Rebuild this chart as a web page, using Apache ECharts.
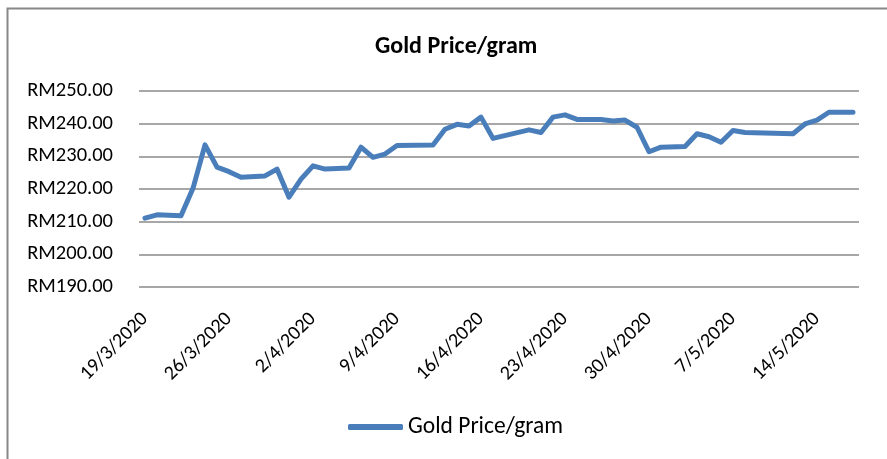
<!DOCTYPE html>
<html>
<head>
<meta charset="utf-8">
<script src="https://cdn.jsdelivr.net/npm/echarts@6/dist/echarts.min.js"></script>
<style>
  html, body { margin: 0; padding: 0; background: #fff; }
  #chart { width: 887px; height: 459px; }
</style>
</head>
<body>
<div id="chart"></div>
<script>
// Observed data points (date as d/m/yyyy, gold price RM per gram)
const pointDates = [
  '19/3/2020','20/3/2020','22/3/2020','23/3/2020','24/3/2020','25/3/2020','26/3/2020','27/3/2020','29/3/2020','30/3/2020','31/3/2020',
  '1/4/2020','2/4/2020','3/4/2020','5/4/2020','6/4/2020','7/4/2020','8/4/2020','9/4/2020','12/4/2020','13/4/2020','14/4/2020','15/4/2020',
  '16/4/2020','17/4/2020','20/4/2020','21/4/2020','22/4/2020','23/4/2020','24/4/2020','26/4/2020','27/4/2020','28/4/2020','29/4/2020','30/4/2020',
  '1/5/2020','3/5/2020','4/5/2020','5/5/2020','6/5/2020','7/5/2020','8/5/2020','12/5/2020','13/5/2020','14/5/2020','15/5/2020','17/5/2020'
];
const pointValues = [
  211.1, 212.1, 211.8, 220.2, 233.5, 226.7, 225.3, 223.6, 224.0, 226.1, 217.5,
  223.0, 227.1, 226.1, 226.4, 232.8, 229.7, 230.7, 233.3, 233.5, 238.3, 239.8, 239.3,
  242.0, 235.5, 238.1, 237.3, 242.0, 242.7, 241.3, 241.3, 240.8, 241.1, 238.9, 231.4,
  232.8, 233.0, 236.9, 236.0, 234.3, 237.9, 237.3, 236.9, 239.9, 241.1, 243.5, 243.5
];
const axisStart = '19/3/2020';
const axisEnd = '17/5/2020';
const yTicks = [190, 200, 210, 220, 230, 240, 250];
const seriesName = 'Gold Price/gram';

function parseDMY(s) { const p = s.split('/').map(Number); return new Date(Date.UTC(p[2], p[1]-1, p[0])); }
function fmtDMY(d) { return d.getUTCDate() + '/' + (d.getUTCMonth()+1) + '/' + d.getUTCFullYear(); }

// Daily category axis (Excel date axis)
const categories = [];
for (let d = parseDMY(axisStart); d <= parseDMY(axisEnd); d = new Date(d.getTime() + 86400000)) {
  categories.push(fmtDMY(d));
}
const lookup = {};
pointDates.forEach((d, i) => { lookup[d] = pointValues[i]; });
const seriesData = categories.map(c => (c in lookup ? lookup[c] : null));

const FONT = 'Carlito, Lato, sans-serif';
const BLUE = '#4a7ebb';
const chart = echarts.init(document.getElementById('chart'), null, { renderer: 'canvas' });
chart.setOption({
  backgroundColor: '#ffffff',
  animation: false,
  title: {
    text: seriesName,
    left: 370,
    top: 30,
    textStyle: { fontFamily: FONT, fontSize: 24, fontWeight: 'bold', color: '#000' }
  },
  legend: {
    left: 343,
    top: 410,
    itemWidth: 55,
    itemHeight: 6,
    icon: 'roundRect',
    data: [{ name: seriesName, icon: 'roundRect', itemStyle: { color: BLUE } }],
    textStyle: { fontFamily: FONT, fontSize: 23.5, color: '#000' }
  },
  graphic: [{
    type: 'rect',
    shape: { x: 7.5, y: 8.5, width: 900, height: 500 },
    style: { fill: 'none', stroke: '#888888', lineWidth: 2 },
    silent: true, z: -1
  }],
  grid: { left: 139, right: 28, top: 91, bottom: 172, containLabel: false },
  xAxis: {
    type: 'category',
    data: categories,
    boundaryGap: true,
    axisLine: { show: false },
    axisTick: { show: false },
    axisLabel: {
      interval: 6,
      rotate: 45,
      margin: 29,
      fontFamily: FONT,
      fontSize: 20,
      color: '#000'
    },
    splitLine: { show: false }
  },
  yAxis: {
    type: 'value',
    min: yTicks[0],
    max: yTicks[yTicks.length - 1],
    interval: 10,
    axisLine: { show: false },
    axisTick: { show: false },
    axisLabel: {
      margin: 26,
      fontFamily: FONT,
      fontSize: 20.5,
      color: '#000',
      formatter: v => 'RM' + v.toFixed(2)
    },
    splitLine: { show: true, lineStyle: { color: '#8a8a8a', width: 1.5 } }
  },
  series: [{
    name: seriesName,
    type: 'line',
    data: seriesData,
    connectNulls: true,
    showSymbol: false,
    symbol: 'none',
    lineStyle: { color: BLUE, width: 5, cap: 'round', join: 'round' },
    itemStyle: { color: BLUE }
  }]
});
</script>
</body>
</html>
